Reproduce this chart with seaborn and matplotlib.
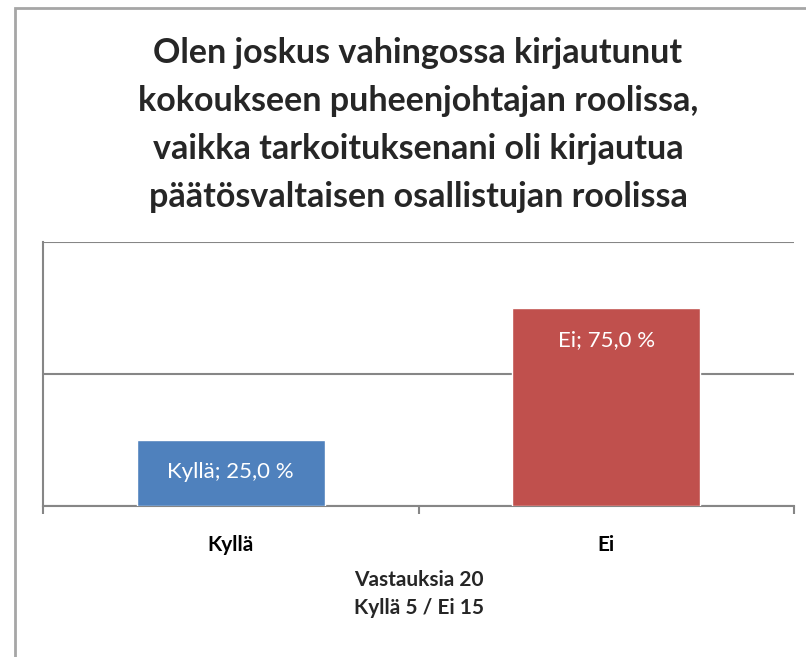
import matplotlib
matplotlib.use("Agg")
import matplotlib.pyplot as plt
import seaborn as sns
import pandas as pd
from matplotlib.patches import Rectangle

categories = ["Kyllä", "Ei"]
values = [0.25, 0.75]
bar_labels = ["Kyllä; 25,0 %", "Ei; 75,0 %"]
colors = ["#4F81BD", "#C0504D"]
title = ("Olen joskus vahingossa kirjautunut\nkokoukseen puheenjohtajan roolissa,\n"
         "vaikka tarkoituksenani oli kirjautua\npäätösvaltaisen osallistujan roolissa")
xlabel = "Vastauksia 20\nKyllä 5 / Ei 15"

sns.set_theme(style="white")
plt.rcParams["font.family"] = ["Lato", "DejaVu Sans"]

df = pd.DataFrame({"cat": categories, "val": values})

fig = plt.figure(figsize=(8.06, 6.57), dpi=100)
ax = fig.add_axes([43/806, 1-506/657, (794-43)/806, (506-242)/657])

sns.barplot(data=df, x="cat", y="val", hue="cat", palette=colors, width=0.5,
            dodge=False, legend=False, ax=ax, saturation=1, zorder=3)

ax.set_xlim(-0.5, 1.5)
ax.set_ylim(0, 1)
ax.set_yticks([0, 0.5, 1.0])
ax.set_yticklabels([])
ax.tick_params(axis="y", length=0)
ax.yaxis.grid(True, color="#868686", linewidth=1.5, zorder=0)
ax.xaxis.grid(False)
ax.set_axisbelow(True)

for s in ["top", "right"]:
    ax.spines[s].set_visible(False)
for s in ["left", "bottom"]:
    ax.spines[s].set_color("#868686")
    ax.spines[s].set_linewidth(1.5)

ax.set_xticks([0, 1])
ax.set_xticklabels(categories, fontsize=15, fontweight="bold", color="black")
ax.tick_params(axis="x", which="major", length=0, pad=21)
ax.set_xticks([-0.5, 0.5, 1.5], minor=True)
ax.tick_params(axis="x", which="minor", bottom=True, length=6, width=1.5,
               color="#868686", direction="out")
ax.set_ylabel("")
ax.set_xlabel(xlabel, fontsize=15, fontweight="bold", labelpad=11, linespacing=1.45)

for i, (v, lab) in enumerate(zip(values, bar_labels)):
    ax.annotate(lab, xy=(i, v), xytext=(0, -23), textcoords="offset points",
                ha="center", va="center", color="white", fontsize=16, zorder=5)

fig.text(418/806, 1-125/657, title, ha="center", va="center",
         fontsize=24.5, fontweight="bold", linespacing=1.62)

fig.patches.append(Rectangle((15/806, -0.1), 1.2, 1-8/657+0.1, transform=fig.transFigure,
                             fill=False, edgecolor="#A6A6A6", linewidth=2))

fig.savefig("out.png", dpi=100)
